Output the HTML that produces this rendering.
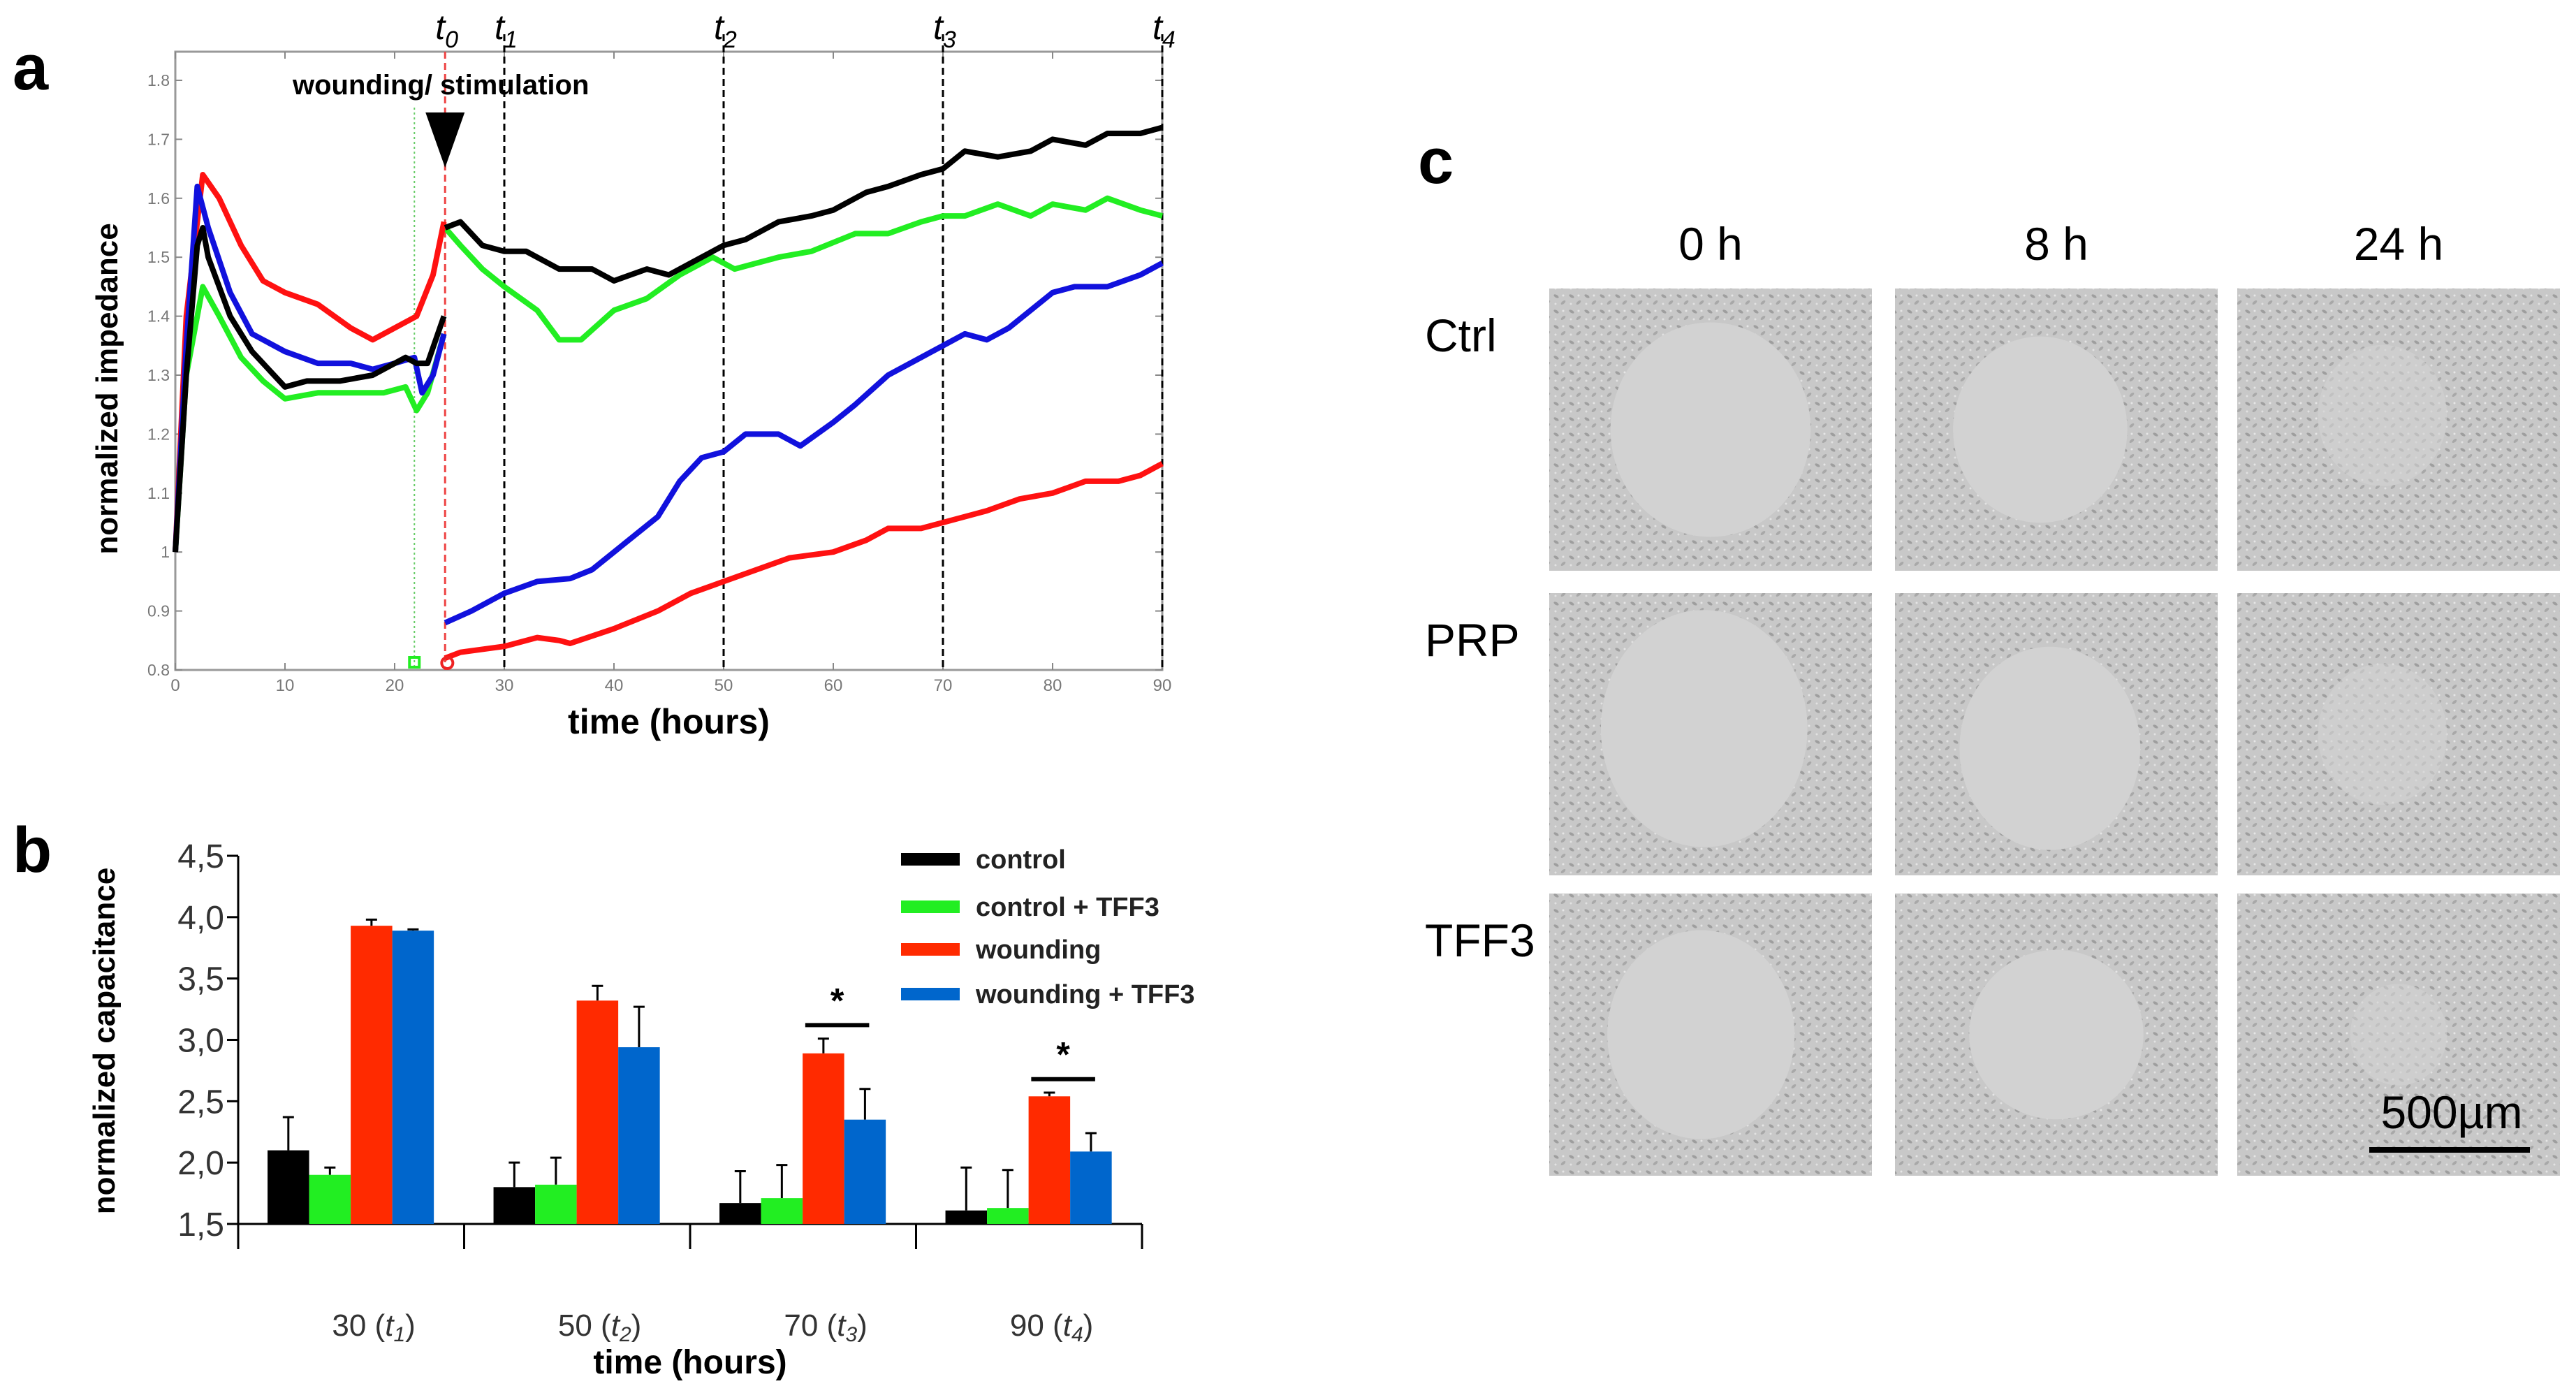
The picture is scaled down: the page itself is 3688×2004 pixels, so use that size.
<!DOCTYPE html>
<html><head><meta charset="utf-8"><style>
html,body{margin:0;padding:0;background:#fff;}
svg{display:block;font-family:"Liberation Sans",sans-serif;}
</style></head><body>
<svg id="root" width="3688" height="2004" viewBox="0 0 3688 2004" xmlns="http://www.w3.org/2000/svg">
<defs>
<pattern id="cells" width="22" height="22" patternUnits="userSpaceOnUse">
<rect width="22" height="22" fill="#c8c8c8"/>
<ellipse cx="6" cy="6" rx="4" ry="2" fill="#9e9e9e" transform="rotate(30 6 6)"/>
<ellipse cx="16" cy="15" rx="4" ry="2" fill="#a8a8a8" transform="rotate(-40 16 15)"/>
<circle cx="16" cy="5" r="1.5" fill="#e6e6e6"/>
<circle cx="5" cy="17" r="1.5" fill="#e2e2e2"/>
</pattern>
</defs>
<text x="18" y="128" font-size="92" font-weight="bold">a</text>
<text x="18" y="1248" font-size="92" font-weight="bold">b</text>
<text x="2030" y="262" font-size="92" font-weight="bold">c</text>
<g id="chartA"></g>
<g id="chartB"></g>
<g id="panelC"></g>
</svg>
<script>
// ---------- Panel a data ----------
const blackPreX=[0,1,2,2.5,3,5,7,10,12,15,18,21,22,23,24.5];
const blackPreY=[1.0,1.3,1.52,1.55,1.5,1.4,1.34,1.28,1.29,1.29,1.3,1.33,1.32,1.32,1.4];
const blackPostX=[24.6,26,28,30,32,35,38,40,43,45,48,50,52,55,58,60,63,65,68,70,72,75,78,80,83,85,88,90];
const blackPostY=[1.55,1.56,1.52,1.51,1.51,1.48,1.48,1.46,1.48,1.47,1.5,1.52,1.53,1.56,1.57,1.58,1.61,1.62,1.64,1.65,1.68,1.67,1.68,1.7,1.69,1.71,1.71,1.72];
const greenPreX=[0,1,2.5,4,6,8,10,13,16,19,21,22,23,24.5];
const greenPreY=[1.0,1.3,1.45,1.4,1.33,1.29,1.26,1.27,1.27,1.27,1.28,1.24,1.27,1.37];
const greenPostX=[24.6,26,28,30,33,35,37,40,43,46,49,51,55,58,62,65,68,70,72,75,78,80,83,85,88,90];
const greenPostY=[1.55,1.52,1.48,1.45,1.41,1.36,1.36,1.41,1.43,1.47,1.5,1.48,1.5,1.51,1.54,1.54,1.56,1.57,1.57,1.59,1.57,1.59,1.58,1.6,1.58,1.57];
const redPreX=[0,1,2.5,4,6,8,10,13,16,18,20,22,23.5,24.5];
const redPreY=[1.0,1.4,1.64,1.6,1.52,1.46,1.44,1.42,1.38,1.36,1.38,1.4,1.47,1.56];
const redPostX=[24.6,26,30,33,35,36,40,44,47,50,53,56,60,63,65,68,70,74,77,80,83,86,88,90];
const redPostY=[0.82,0.83,0.84,0.855,0.85,0.845,0.87,0.9,0.93,0.95,0.97,0.99,1.0,1.02,1.04,1.04,1.05,1.07,1.09,1.1,1.12,1.12,1.13,1.15];
const bluePreX=[0,1,2,3,5,7,10,13,16,18,20,21.8,22.5,23.5,24.5];
const bluePreY=[1.0,1.35,1.62,1.55,1.44,1.37,1.34,1.32,1.32,1.31,1.32,1.33,1.27,1.3,1.37];
const bluePostX=[24.6,27,30,33,36,38,40,42,44,46,48,50,52,55,57,60,62,65,68,70,72,74,76,80,82,85,88,90];
const bluePostY=[0.88,0.9,0.93,0.95,0.955,0.97,1.0,1.03,1.06,1.12,1.16,1.17,1.2,1.2,1.18,1.22,1.25,1.3,1.33,1.35,1.37,1.36,1.38,1.44,1.45,1.45,1.47,1.49];
const aXTicks=[0,10,20,30,40,50,60,70,80,90];
const aYTicks=[0.8,0.9,1,1.1,1.2,1.3,1.4,1.5,1.6,1.7,1.8];
const tTimes=[24.6,30,50,70,90];
const tLabels=["0","1","2","3","4"];

// ---------- Panel b data ----------
const bCategories=["30","50","70","90"];
const bSubs=["1","2","3","4"];
const bControl=[2.1,1.8,1.67,1.61];
const bControlErr=[2.37,2.0,1.93,1.96];
const bControlTFF3=[1.9,1.82,1.71,1.63];
const bControlTFF3Err=[1.96,2.04,1.98,1.94];
const bWound=[3.93,3.32,2.89,2.54];
const bWoundErr=[3.98,3.44,3.01,2.57];
const bWoundTFF3=[3.89,2.94,2.35,2.09];
const bWoundTFF3Err=[3.9,3.27,2.6,2.24];
const bYTicks=["1,5","2,0","2,5","3,0","3,5","4,0","4,5"];
const bYVals=[1.5,2.0,2.5,3.0,3.5,4.0,4.5];
const sigGroups=[2,3];
const sigLevels=[3.12,2.68];

const NS="http://www.w3.org/2000/svg";
function mk(parent,tag,attrs,name,inter){const e=document.createElementNS(NS,tag);for(const k in attrs)e.setAttribute(k,attrs[k]);


parent.appendChild(e);return e;}

// ---------- draw a ----------
(function(){
const g=document.getElementById('chartA');
const L=251,R=1664,T=74,B=959,Y18=115;
const xs=v=>L+v/90*(R-L);
const ysc=v=>B-(v-0.8)*(B-Y18);
mk(g,'rect',{x:L,y:T,width:R-L,height:B-T,fill:'none',stroke:'#999','stroke-width':3},'plot-frame',false);
aXTicks.forEach(t=>{const x=xs(t);
mk(g,'line',{x1:x,x2:x,y1:B,y2:B-10,stroke:'#888','stroke-width':2},'x-tick',false);
mk(g,'line',{x1:x,x2:x,y1:T,y2:T+10,stroke:'#888','stroke-width':2},'x-tick-top',false);
const tx=mk(g,'text',{x:x,y:B+30,'font-size':24,fill:'#777','text-anchor':'middle'},'x-tick-label',false);tx.textContent=t;});
aYTicks.forEach(t=>{const y=ysc(t);
mk(g,'line',{x1:L,x2:L+10,y1:y,y2:y,stroke:'#888','stroke-width':2},'y-tick',false);
mk(g,'line',{x1:R,x2:R-10,y1:y,y2:y,stroke:'#888','stroke-width':2},'y-tick-right',false);
const tx=mk(g,'text',{x:L-8,y:y+8,'font-size':23,fill:'#777','text-anchor':'end'},'y-tick-label',false);tx.textContent=(t===1?'1':t.toFixed(1));});
mk(g,'line',{x1:xs(21.8),x2:xs(21.8),y1:T+80,y2:B,stroke:'#6c6','stroke-width':2,'stroke-dasharray':'3,4'},'prestim-marker',false);
mk(g,'line',{x1:xs(24.6),x2:xs(24.6),y1:T,y2:B,stroke:'#e44','stroke-width':3,'stroke-dasharray':'10,6'},'t0-line',false);
tTimes.slice(1).forEach(t=>mk(g,'line',{x1:xs(t),x2:xs(t),y1:T-25,y2:B,stroke:'#000','stroke-width':3,'stroke-dasharray':'10,6'},'time-point-line',false));
tTimes.forEach((t,i)=>{const tx=mk(g,'text',{x:xs(t)-14,y:56,'font-size':50,'font-style':'italic'},'time-point-label',false);
tx.innerHTML='t<tspan font-size="34" dy="12">'+tLabels[i]+'</tspan>';});
function line(xa,ya,col,name){const d=xa.map((x,i)=>(i?'L':'M')+xs(x).toFixed(1)+','+ysc(ya[i]).toFixed(1)).join('');
mk(g,'path',{d:d,fill:'none',stroke:col,'stroke-width':8,'stroke-linejoin':'round'},name,false);}
line(greenPreX,greenPreY,'#22ee22','green-line-pre');line(greenPostX,greenPostY,'#22ee22','green-line-post');
line(redPreX,redPreY,'#ff1111','red-line-pre');line(redPostX,redPostY,'#ff1111','red-line-post');
line(bluePreX,bluePreY,'#1111dd','blue-line-pre');line(bluePostX,bluePostY,'#1111dd','blue-line-post');
line(blackPreX,blackPreY,'#000','black-line-pre');line(blackPostX,blackPostY,'#000','black-line-post');
mk(g,'rect',{x:xs(21.8)-7,y:B-18,width:14,height:14,fill:'none',stroke:'#2e2','stroke-width':4},'start-marker',false);
mk(g,'circle',{cx:xs(24.8),cy:B-10,r:8,fill:'none',stroke:'#e22','stroke-width':4},'wound-marker',false);
const x0=xs(24.6);
mk(g,'path',{d:`M${x0-28},161 L${x0+28},161 L${x0},240 Z`,fill:'#000'},'stimulation-arrow',false);
let tx=mk(g,'text',{x:419,y:135,'font-size':40,'font-weight':'bold'},'wounding-annotation',false);tx.textContent='wounding/ stimulation';
tx=mk(g,'text',{x:(L+R)/2,y:1050,'font-size':50,'font-weight':'bold','text-anchor':'middle'},'x-axis-title',false);tx.textContent='time (hours)';
tx=mk(g,'text',{x:0,y:0,'font-size':44,'font-weight':'bold','text-anchor':'middle',transform:`translate(168,${(T+B)/2+40}) rotate(-90)`},'y-axis-title',false);tx.textContent='normalized impedance';
})();

// ---------- draw b ----------
(function(){
const g=document.getElementById('chartB');
const L=341,R=1635,B=1752,T4=1225;
const ys=v=>B-(v-1.5)/3.0*(B-T4);
const gw=(R-L)/4;
mk(g,'line',{x1:L,x2:L,y1:T4,y2:B+36,stroke:'#000','stroke-width':3},'y-axis',false);
mk(g,'line',{x1:L,x2:R,y1:B,y2:B,stroke:'#000','stroke-width':3},'x-axis',false);
for(let i=1;i<=4;i++)mk(g,'line',{x1:L+i*gw,x2:L+i*gw,y1:B,y2:B+36,stroke:'#000','stroke-width':3},'group-tick',false);
bYVals.forEach((v,i)=>{const y=ys(v);mk(g,'line',{x1:L-16,x2:L,y1:y,y2:y,stroke:'#000','stroke-width':3},'y-tick',false);
const tx=mk(g,'text',{x:L-20,y:y+17,'font-size':48,fill:'#333','text-anchor':'end'},'y-tick-label',false);tx.textContent=bYTicks[i];});
const series=[[bControl,bControlErr,'#000','control'],[bControlTFF3,bControlTFF3Err,'#22ee22','control-tff3'],[bWound,bWoundErr,'#ff2a00','wounding'],[bWoundTFF3,bWoundTFF3Err,'#0066cc','wounding-tff3']];
const bw=gw*0.184;
bCategories.forEach((c,ci)=>{
series.forEach((s,si)=>{const x=L+ci*gw+gw*0.13+si*bw;const y=ys(s[0][ci]);const ye=ys(s[1][ci]);
mk(g,'line',{x1:x+bw/2,x2:x+bw/2,y1:ye,y2:y,stroke:'#000','stroke-width':3},'error-bar-'+s[3],false);
mk(g,'line',{x1:x+bw/2-8,x2:x+bw/2+8,y1:ye,y2:ye,stroke:'#000','stroke-width':3},'error-cap-'+s[3],false);
mk(g,'rect',{x:x,y:y,width:bw,height:B-y,fill:s[2]},'bar-'+s[3]+'-'+c,false);});
const tx=mk(g,'text',{x:L+ci*gw+gw*0.6,y:1912,'font-size':44,fill:'#333','text-anchor':'middle'},'category-label',false);
tx.innerHTML=c+' (<tspan font-style="italic">t<tspan font-size="30" dy="8">'+bSubs[ci]+'</tspan></tspan><tspan dy="-8">)</tspan>';});
sigGroups.forEach((gi,k)=>{const x1=L+gi*gw+gw*0.13+2.5*bw-26,x2=L+gi*gw+gw*0.13+3.5*bw+6;const y=ys(sigLevels[k]);
mk(g,'line',{x1:x1,x2:x2,y1:y,y2:y,stroke:'#000','stroke-width':6},'significance-bar',false);
const tx=mk(g,'text',{x:(x1+x2)/2,y:y-18,'font-size':50,'font-weight':'bold','text-anchor':'middle'},'significance-star',false);tx.textContent='*';});
const legCols=['#000','#22ee22','#ff2a00','#0066cc'];const legNames=['control','control + TFF3','wounding','wounding + TFF3'];const legY=[1230,1298,1359,1423];
legNames.forEach((n,i)=>{mk(g,'rect',{x:1290,y:legY[i]-9,width:84,height:18,fill:legCols[i]},'legend-swatch',false);
const tx=mk(g,'text',{x:1397,y:legY[i]+13,'font-size':38,'font-weight':'bold',fill:'#222'},'legend-entry',false);tx.textContent=n;});
let tx=mk(g,'text',{x:(L+R)/2,y:1966,'font-size':48,'font-weight':'bold','text-anchor':'middle'},'x-axis-title',false);tx.textContent='time (hours)';
tx=mk(g,'text',{x:0,y:0,'font-size':44,'font-weight':'bold','text-anchor':'middle',transform:`translate(164,1490) rotate(-90)`},'y-axis-title',false);tx.textContent='normalized capacitance';
})();

// ---------- draw c ----------
(function(){
const g=document.getElementById('panelC');
const colX=[2218,2713,3203],rowY=[413,849,1279],W=462,H=404;
const cols=['0 h','8 h','24 h'],rows=['Ctrl','PRP','TFF3'];
const circ=[[[0.5,0.5,0.31,0.38],[0.45,0.5,0.27,0.33],[0.45,0.45,0.2,0.25]],[[0.48,0.48,0.32,0.42],[0.48,0.55,0.28,0.36],[0.45,0.5,0.2,0.25]],[[0.47,0.5,0.29,0.37],[0.5,0.5,0.27,0.3],[0.5,0.5,0.15,0.18]]];
cols.forEach((c,i)=>{const t=mk(g,'text',{x:colX[i]+W/2,y:372,'font-size':66,'text-anchor':'middle'},'column-label',false);t.textContent=c;});
rows.forEach((r,j)=>{const t=mk(g,'text',{x:2040,y:rowY[j]+90,'font-size':66},'row-label',false);t.textContent=r;
cols.forEach((c,i)=>{mk(g,'rect',{x:colX[i],y:rowY[j],width:W,height:H,fill:'url(#cells)'},'micrograph-'+r.toLowerCase()+'-'+i,false);
const q=circ[j][i];mk(g,'ellipse',{cx:colX[i]+q[0]*W,cy:rowY[j]+q[1]*H,rx:q[2]*W,ry:q[3]*H,fill:'#d2d2d2',opacity:i==2?0.6:1},'wound-area',false);});});
const t=mk(g,'text',{x:3510,y:1615,'font-size':66,'text-anchor':'middle'},'scale-bar-label',false);t.textContent='500µm';
mk(g,'rect',{x:3392,y:1642,width:230,height:8,fill:'#000'},'scale-bar',false);
})();
</script>
</body></html>
